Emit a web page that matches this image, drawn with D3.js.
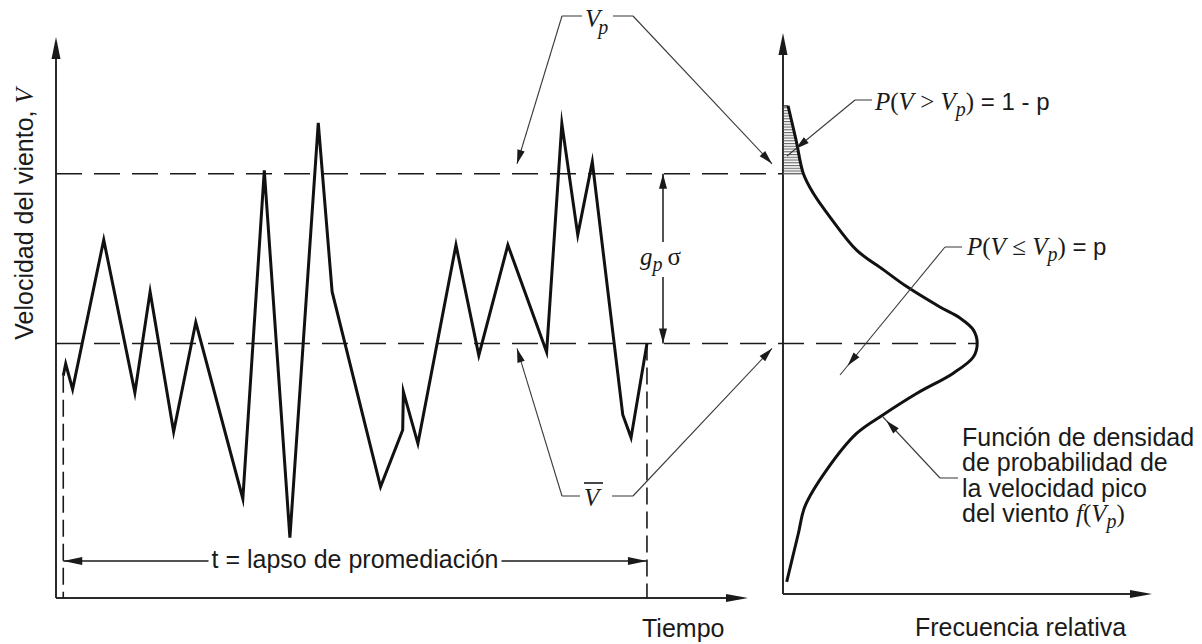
<!DOCTYPE html>
<html>
<head>
<meta charset="utf-8">
<script src="https://cdn.jsdelivr.net/npm/d3@7"></script>
<style>
  html, body { margin: 0; padding: 0; background: #fff; }
  svg { display: block; }
</style>
</head>
<body>
<svg id="chart" width="1202" height="644"></svg>
<script>
// Wind speed record: time (share of the plotted span) and speed (arbitrary units)
const timeValues  = [1.05, 1.4, 2.4, 6.9, 11.4, 13.6, 17.0, 20.2, 27.0, 30.1, 33.8, 37.9, 39.9,
                     46.9, 50.1, 50.2, 52.3, 57.8, 61.1, 65.3, 70.9, 73.1, 75.4, 77.5, 81.9, 83.1, 85.4];
const speedValues = [2.62, 2.76, 2.46, 4.22, 2.42, 3.61, 1.96, 3.25, 1.17, 5.04, 0.71, 5.60, 3.61,
                     1.31, 1.98, 2.43, 1.82, 4.16, 2.86, 4.16, 2.90, 5.59, 4.28, 5.14, 2.16, 1.89, 3.0];

// Reference levels: mean speed and peak speed
const meanSpeed = 3.0;
const peakSpeed = 5.0;

// Probability density of the peak wind speed: speed vs. relative frequency
const densitySpeed = [5.80, 5.40, 5.00, 4.77, 4.49, 4.10, 3.87, 3.67, 3.43, 3.30, 3.16, 3.00,
                      2.84, 2.65, 2.41, 2.16, 1.94, 1.51, 1.08, 0.76, 0.19];
const densityFreq  = [0.026, 0.067, 0.105, 0.156, 0.242, 0.379, 0.516, 0.637, 0.808, 0.911, 0.980, 1.000,
                      0.980, 0.877, 0.688, 0.516, 0.379, 0.225, 0.113, 0.079, 0.019];

// Text
const yAxisTitle = "Velocidad del viento, ";
const xAxisTitle = "Tiempo";
const freqAxisTitle = "Frecuencia relativa";
const spanLabel = "t = lapso de promediación";
const densityLabelLines = ["Función de densidad", "de probabilidad de", "la velocidad pico", "del viento "];

const SANS = "'Liberation Sans', Arial, Helvetica, sans-serif";
const SERIF = "'Liberation Serif', 'Times New Roman', serif";
const INK = "#1a1a1a";

const svg = d3.select("#chart");

// Scales
const xT = d3.scaleLinear().domain([0, 100]).range([56, 748]);
const yV = d3.scaleLinear().domain([0, 6.6]).range([598, 38]);
const xF = d3.scaleLinear().domain([0, 1.9]).range([783, 1152]);
const rightBase = 594;

// Filled arrowhead with its tip at (x, y), pointing along angle (radians)
function head(g, x, y, ang, len, half) {
  const bx = x - len * Math.cos(ang), by = y - len * Math.sin(ang);
  const px = -Math.sin(ang) * half, py = Math.cos(ang) * half;
  g.append("path")
    .attr("d", `M${x},${y}L${bx + px},${by + py}L${bx - px},${by - py}Z`)
    .attr("fill", INK);
}

// Leader: light stub + thin line towards a target, arrowhead set back by `inset`
function leader(g, stub, from, to, inset) {
  g.append("line").attr("x1", stub[0]).attr("y1", stub[1]).attr("x2", from[0]).attr("y2", from[1])
    .attr("stroke", "#9a9a9a").attr("stroke-width", 2);
  g.append("line").attr("x1", from[0]).attr("y1", from[1]).attr("x2", to[0]).attr("y2", to[1])
    .attr("stroke", "#3a3a3a").attr("stroke-width", 1.1);
  const ang = Math.atan2(to[1] - from[1], to[0] - from[0]);
  head(g, to[0] - inset * Math.cos(ang), to[1] - inset * Math.sin(ang), ang, 14, 3.8);
}

// ---------- Axes ----------
const axes = svg.append("g").attr("stroke", "#2a2a2a").attr("stroke-width", 2);
axes.append("line").attr("x1", xT(0)).attr("y1", yV(0)).attr("x2", xT(0)).attr("y2", 56);
axes.append("line").attr("x1", xT(0)).attr("y1", yV(0)).attr("x2", 730).attr("y2", yV(0));
axes.append("line").attr("x1", xF(0)).attr("y1", rightBase).attr("x2", xF(0)).attr("y2", 52);
axes.append("line").attr("x1", xF(0)).attr("y1", rightBase).attr("x2", 1134).attr("y2", rightBase);
head(svg, xT(0), 37, -Math.PI / 2, 22, 4.5);
head(svg, 748, yV(0), 0, 22, 4);
head(svg, xF(0), 33, -Math.PI / 2, 22, 4.5);
head(svg, 1152, rightBase, 0, 22, 4);

// ---------- Reference levels ----------
svg.append("line").attr("x1", xT(0)).attr("x2", xF(0))
  .attr("y1", yV(peakSpeed)).attr("y2", yV(peakSpeed))
  .attr("stroke", "#1a1a1a").attr("stroke-width", 1.6).attr("stroke-dasharray", "26,12");
svg.append("line").attr("x1", xT(0)).attr("x2", xF(1.0))
  .attr("y1", yV(meanSpeed)).attr("y2", yV(meanSpeed))
  .attr("stroke", "#1a1a1a").attr("stroke-width", 1.6).attr("stroke-dasharray", "26,12");

// Averaging window bounds
const t0 = timeValues[0], t1 = timeValues[timeValues.length - 1];
svg.append("line").attr("x1", xT(t0)).attr("x2", xT(t0))
  .attr("y1", yV(speedValues[0])).attr("y2", yV(0))
  .attr("stroke", INK).attr("stroke-width", 1.6).attr("stroke-dasharray", "17,7");
svg.append("line").attr("x1", xT(t1)).attr("x2", xT(t1))
  .attr("y1", yV(speedValues[speedValues.length - 1])).attr("y2", yV(0))
  .attr("stroke", INK).attr("stroke-width", 1.6).attr("stroke-dasharray", "17,7");

// ---------- Wind speed record ----------
const series = timeValues.map((t, i) => [t, speedValues[i]]);
svg.append("path")
  .datum(series)
  .attr("d", d3.line().x(d => xT(d[0])).y(d => yV(d[1])))
  .attr("fill", "none").attr("stroke", "#111").attr("stroke-width", 3)
  .attr("stroke-linejoin", "miter").attr("stroke-miterlimit", 10);

// ---------- Peak-speed density ----------
const dens = densitySpeed.map((v, i) => [densityFreq[i], v]);
const defs = svg.append("defs");
const pat = defs.append("pattern").attr("id", "hatch").attr("patternUnits", "userSpaceOnUse")
  .attr("width", 12).attr("height", 2.75);
pat.append("line").attr("x1", 0).attr("x2", 12).attr("y1", 0.6).attr("y2", 0.6)
  .attr("stroke", "#555").attr("stroke-width", 1);

const tail = dens.filter(d => d[1] >= peakSpeed - 1e-6);
svg.append("path")
  .datum(tail)
  .attr("d", d3.area().curve(d3.curveCatmullRom).y(d => yV(d[1])).x0(xF(0)).x1(d => xF(d[0])))
  .attr("fill", "url(#hatch)");
svg.append("line").attr("x1", xF(0)).attr("x2", xF(tail[tail.length - 1][0]))
  .attr("y1", yV(peakSpeed)).attr("y2", yV(peakSpeed)).attr("stroke", "#666").attr("stroke-width", 1.3);
svg.append("line").attr("x1", xF(0)).attr("x2", xF(tail[0][0]))
  .attr("y1", yV(tail[0][1])).attr("y2", yV(tail[0][1])).attr("stroke", "#333").attr("stroke-width", 1.4);

svg.append("path")
  .datum(dens)
  .attr("d", d3.line().curve(d3.curveCatmullRom).x(d => xF(d[0])).y(d => yV(d[1])))
  .attr("fill", "none").attr("stroke", "#111").attr("stroke-width", 3);

// ---------- Axis titles ----------
const yt = svg.append("text")
  .attr("transform", "translate(33,214) rotate(-90)")
  .attr("text-anchor", "middle")
  .attr("font-family", SANS).attr("font-size", 25).attr("fill", INK);
yt.append("tspan").text(yAxisTitle);
yt.append("tspan").attr("font-family", SERIF).attr("font-style", "italic").text("V");

svg.append("text").attr("x", 642).attr("y", 637)
  .attr("font-family", SANS).attr("font-size", 25).attr("fill", INK).text(xAxisTitle);
svg.append("text").attr("x", 915).attr("y", 636)
  .attr("font-family", SANS).attr("font-size", 25).attr("fill", INK).text(freqAxisTitle);

// ---------- Averaging span ----------
const spanY = 561;
const spanTxt = svg.append("text").attr("x", 355).attr("y", 568).attr("text-anchor", "middle")
  .attr("font-family", SANS).attr("font-size", 25).attr("fill", INK).text(spanLabel);
const sb = spanTxt.node().getBBox();
svg.append("line").attr("x1", xT(t0)).attr("x2", sb.x - 3).attr("y1", spanY).attr("y2", spanY)
  .attr("stroke", INK).attr("stroke-width", 1.5);
svg.append("line").attr("x1", sb.x + sb.width + 3).attr("x2", xT(t1)).attr("y1", spanY).attr("y2", spanY)
  .attr("stroke", INK).attr("stroke-width", 1.5);
head(svg, xT(t0), spanY, Math.PI, 19, 4);
head(svg, xT(t1), spanY, 0, 19, 4);

// ---------- g_p sigma ----------
const gx = 663;
svg.append("line").attr("x1", gx).attr("x2", gx).attr("y1", yV(peakSpeed)).attr("y2", 242)
  .attr("stroke", INK).attr("stroke-width", 1.5);
svg.append("line").attr("x1", gx).attr("x2", gx).attr("y1", 277).attr("y2", yV(meanSpeed))
  .attr("stroke", INK).attr("stroke-width", 1.5);
head(svg, gx, yV(peakSpeed), -Math.PI / 2, 15, 4);
head(svg, gx, yV(meanSpeed), Math.PI / 2, 15, 4);
const gs = svg.append("text").attr("x", 640).attr("y", 265)
  .attr("font-family", SERIF).attr("font-size", 25).attr("fill", INK);
gs.append("tspan").attr("font-style", "italic").text("g");
gs.append("tspan").attr("font-style", "italic").attr("font-size", 20).attr("dy", 6).text("p");
gs.append("tspan").attr("dy", -6).attr("dx", 5).text("σ");

// ---------- V_p callout ----------
const ann = svg.append("g");
const vp = ann.append("text").attr("x", 585).attr("y", 27)
  .attr("font-family", SERIF).attr("font-style", "italic").attr("font-size", 25).attr("fill", INK);
vp.append("tspan").text("V");
vp.append("tspan").attr("font-size", 20).attr("dy", 7).attr("dx", -2).text("p");
leader(ann, [582, 16], [562, 16], [517, yV(peakSpeed) - 10], 0);
leader(ann, [613, 16], [633, 16], [772, yV(peakSpeed) - 10], 0);

// ---------- V-bar callout ----------
ann.append("text").attr("x", 584).attr("y", 506)
  .attr("font-family", SERIF).attr("font-style", "italic").attr("font-size", 25).attr("fill", INK).text("V");
ann.append("line").attr("x1", 584).attr("x2", 603).attr("y1", 483).attr("y2", 483)
  .attr("stroke", INK).attr("stroke-width", 1.6);
leader(ann, [580, 496], [562, 496], [517, yV(meanSpeed) + 5], 0);
leader(ann, [612, 496], [633, 496], [772, yV(meanSpeed) + 5], 0);

// ---------- Probability callouts ----------
function probText(x, y, rel, rhs) {
  const t = ann.append("text").attr("x", x).attr("y", y)
    .attr("font-family", SERIF).attr("font-size", 25).attr("fill", INK);
  t.append("tspan").attr("font-style", "italic").text("P");
  t.append("tspan").text("(");
  t.append("tspan").attr("font-style", "italic").text("V");
  t.append("tspan").text(rel);
  t.append("tspan").attr("font-style", "italic").text("V");
  t.append("tspan").attr("font-style", "italic").attr("font-size", 20).attr("dy", 6).text("p");
  t.append("tspan").attr("dy", -6).text(")");
  t.append("tspan").attr("font-family", SANS).attr("font-size", 24).text(rhs);
}
probText(875, 110, " > ", " = 1 - p");
leader(ann, [872, 100], [855, 100], [787, 156], 11);
probText(967, 255, " ≤ ", " = p");
leader(ann, [962, 247], [945, 247], [840, 375], 12);

// ---------- Density description ----------
const dl = ann.append("text").attr("font-family", SANS).attr("font-size", 25).attr("fill", INK);
densityLabelLines.forEach((s, i) => {
  dl.append("tspan").attr("x", 962).attr("y", 446 + i * 25.3).text(s);
});
dl.append("tspan").attr("font-family", SERIF).attr("font-style", "italic").text("f");
dl.append("tspan").attr("font-family", SERIF).text("(");
dl.append("tspan").attr("font-family", SERIF).attr("font-style", "italic").text("V");
dl.append("tspan").attr("font-family", SERIF).attr("font-style", "italic").attr("font-size", 20).attr("dy", 6).text("p");
dl.append("tspan").attr("font-family", SERIF).attr("dy", -6).text(")");
leader(ann, [958, 478], [940, 478], [883, 417], 5);
</script>
</body>
</html>
